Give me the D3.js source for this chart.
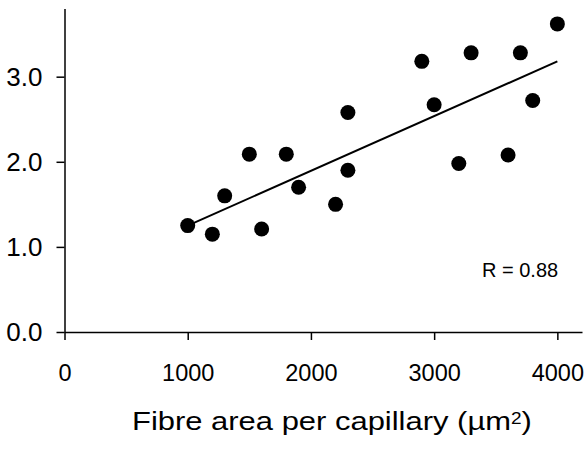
<!DOCTYPE html>
<html>
<head>
<meta charset="utf-8">
<script src="https://cdn.jsdelivr.net/npm/d3@7"></script>
<style>
  html, body { margin: 0; padding: 0; background: #fff; }
  svg { display: block; }
  text { font-family: "Liberation Sans", Arial, sans-serif; fill: #000; }
</style>
</head>
<body>
<svg id="chart" width="586" height="450"></svg>
<script>
// Data
const fibreArea = [1000, 1200, 1300, 1500, 1600, 1800, 1900, 2200, 2300, 2300, 2900, 3000, 3200, 3300, 3600, 3700, 3800, 4000];
const yValues   = [1.25, 1.15, 1.60, 2.09, 1.21, 2.09, 1.70, 1.50, 2.58, 1.90, 3.18, 2.67, 1.98, 3.28, 2.08, 3.28, 2.72, 3.62];
const fitLineX  = [1000, 4000];
const fitLineY  = [1.25, 3.18];
const xTicks    = [0, 1000, 2000, 3000, 4000];
const yTicks    = [0, 1, 2, 3];
const xTitle    = "Fibre area per capillary (µm";
const xTitleSup = "2";
const xTitleEnd = ")";
const rLabel    = "R = 0.88";

const svg = d3.select("#chart");

const x = d3.scaleLinear().domain([0, 4200]).range([64.5, 582]);
const y = d3.scaleLinear().domain([0, 3.8]).range([332, 8.6]);

// X axis
const xAxis = svg.append("g")
  .attr("transform", `translate(0,${y(0)})`)
  .call(d3.axisBottom(x).tickValues(xTicks).tickFormat(d3.format("d")).tickSizeInner(8).tickSizeOuter(0).tickPadding(24));
xAxis.select(".domain").attr("stroke", "#000").attr("stroke-width", 1.5);
xAxis.selectAll(".tick line").attr("stroke", "#000").attr("stroke-width", 1.5);
xAxis.selectAll(".tick text").attr("font-size", 23.5).attr("font-family", "Liberation Sans, Arial, sans-serif").attr("fill", "#000");

// Y axis
const yAxis = svg.append("g")
  .attr("transform", `translate(${x(0)},0)`)
  .call(d3.axisLeft(y).tickValues(yTicks).tickFormat(d3.format(".1f")).tickSizeInner(8).tickSizeOuter(0).tickPadding(14));
yAxis.select(".domain").attr("stroke", "#000").attr("stroke-width", 1.5);
yAxis.selectAll(".tick line").attr("stroke", "#000").attr("stroke-width", 1.5);
yAxis.selectAll(".tick text").attr("font-size", 26).attr("font-family", "Liberation Sans, Arial, sans-serif").attr("fill", "#000");

// Fit line
svg.append("line")
  .attr("x1", x(fitLineX[0])).attr("y1", y(fitLineY[0]))
  .attr("x2", x(fitLineX[1])).attr("y2", y(fitLineY[1]))
  .attr("stroke", "#000").attr("stroke-width", 2);

// Points
svg.append("g").selectAll("circle")
  .data(fibreArea.map((v, i) => [v, yValues[i]]))
  .join("circle")
  .attr("cx", d => x(d[0]))
  .attr("cy", d => y(d[1]))
  .attr("r", 7.5)
  .attr("fill", "#000");

// R label
svg.append("text")
  .attr("x", 482).attr("y", 276.5)
  .attr("font-size", 20)
  .text(rLabel);

// X title (the reference lettering is horizontally wide: stretch to span 132..532)
const tg = svg.append("g").attr("transform", "translate(132,429.5)");
const t = tg.append("text")
  .attr("x", 0).attr("y", 0)
  .attr("font-size", 26);
t.append("tspan").text(xTitle);
t.append("tspan").attr("font-size", 16).attr("dy", -6).text(xTitleSup);
t.append("tspan").attr("dy", 6).text(xTitleEnd);
const w = t.node().getComputedTextLength();
tg.attr("transform", `translate(132,429.5) scale(${400 / w},1)`);
</script>
</body>
</html>
